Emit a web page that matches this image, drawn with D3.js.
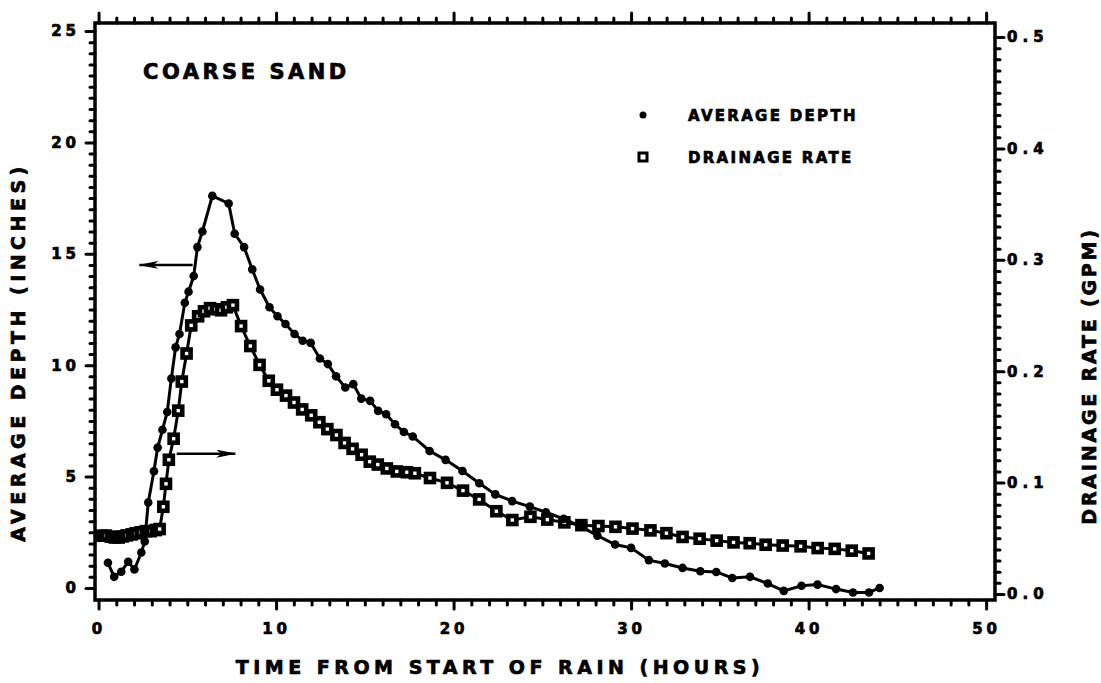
<!DOCTYPE html>
<html>
<head>
<meta charset="utf-8">
<script src="https://cdn.jsdelivr.net/npm/d3@7"></script>
<style>
  body { margin: 0; background: #fff; }
  svg text { font-family: "DejaVu Sans", sans-serif; font-weight: bold; fill: #000; stroke: #000; stroke-width: 0.7; }
  .axis path.domain { display: none; }
  .axis line { stroke: #000; stroke-width: 3; stroke-linecap: round; }
</style>
</head>
<body>
<svg id="chart"></svg>
<script>
// values
const depthHours = [0.53,0.88,1.28,1.67,2.02,2.41,2.6,2.8,3.12,3.33,3.6,3.87,4.1,4.34,4.56,4.86,5.07,5.36,5.57,5.85,
  6.41,7.33,7.67,8.2,8.66,9.1,9.63,10.08,10.53,11.04,11.5,11.95,12.47,12.92,13.38,13.9,14.35,14.8,15.3,15.75,
  16.2,16.7,17.2,17.7,18.65,19.55,20.5,21.45,22.35,23.3,24.3,25.2,26.2,27.2,28.1,29.1,30.0,31.0,31.9,32.9,
  33.9,34.8,35.7,36.7,37.7,38.6,39.6,40.5,41.55,42.5,43.4,44.0];
const depthInches = [1.13,0.5,0.73,1.18,0.83,1.59,2.09,3.84,5.24,6.3,7.1,7.9,9.4,10.8,11.4,12.8,13.3,14.0,15.3,16.0,
  17.6,17.26,15.9,15.3,14.3,13.4,12.6,12.2,11.85,11.4,11.1,11.0,10.3,10.05,9.5,9.0,9.15,8.5,8.4,7.95,
  7.8,7.35,7.0,6.8,6.15,5.75,5.25,4.7,4.2,3.9,3.65,3.4,3.1,2.75,2.35,1.95,1.8,1.25,1.1,0.9,
  0.75,0.72,0.45,0.5,0.2,-0.13,0.1,0.15,-0.05,-0.2,-0.2,0.0];

const rateHours = [0.18,0.41,0.69,0.91,1.14,1.36,1.59,1.87,2.09,2.37,2.66,2.94,3.22,3.44,
  3.65,3.8,3.96,4.23,4.49,4.69,4.96,5.22,5.61,5.94,6.28,6.61,6.9,7.23,7.57,
  8.03,8.55,9.07,9.59,10.05,10.56,11.01,11.47,11.98,12.44,12.89,13.4,13.86,14.31,14.82,15.28,15.73,16.24,16.8,17.37,17.82,
  18.67,19.63,20.53,21.44,22.41,23.31,24.33,25.28,26.24,27.2,28.16,29.12,30.08,31.09,31.99,32.9,33.86,34.82,35.77,
  36.68,37.58,38.54,39.55,40.51,41.47,42.43,43.38];
const rateGpm = [0.0523,0.0524,0.0515,0.0507,0.0507,0.0517,0.0526,0.0535,0.0545,0.0554,0.0564,0.0564,0.0574,0.0583,
  0.0783,0.0989,0.1205,0.1394,0.1646,0.1907,0.2159,0.2411,0.2493,0.2538,0.2566,0.2556,0.2547,0.2574,0.2593,
  0.2405,0.2226,0.2057,0.1914,0.1834,0.1781,0.1719,0.1657,0.1604,0.1542,0.148,0.1427,0.1356,0.1303,0.125,0.1188,0.1162,0.1127,0.11,0.1093,0.1084,
  0.1041,0.0998,0.0928,0.0849,0.0743,0.0664,0.0693,0.0668,0.0643,0.0618,0.061,0.0603,0.0587,0.0571,0.0546,0.0512,0.0496,0.0479,0.0463,
  0.0456,0.0442,0.0435,0.0428,0.0412,0.0405,0.0389,0.0364];

const xTicks = [0, 10, 20, 30, 40, 50];
const depthTicks = [0, 5, 10, 15, 20, 25];
const rateTicks = [0, 0.1, 0.2, 0.3, 0.4, 0.5];
const legendKeys = ['AVERAGE DEPTH', 'DRAINAGE RATE'];
const chartTitle = 'COARSE SAND';
const xTitle = 'TIME FROM START OF RAIN (HOURS)';
const leftTitle = 'AVERAGE DEPTH (INCHES)';
const rightTitle = 'DRAINAGE RATE (GPM)';

// arrows pointing each curve at its axis: [hour, value] start -> end
const depthArrow = [[5.3, 14.5], [2.3, 14.5]];
const rateArrow = [[4.4, 0.126], [7.7, 0.126]];

class DualAxisChart {

  constructor(_config) {
    this.config = {
      parentElement: _config.parentElement,
      containerWidth: 1101,
      containerHeight: 683,
      margin: { top: 23, bottom: 83, right: 106, left: 95 }
    };
    this.initVis();
  }

  initVis() {
    let vis = this;

    vis.width = vis.config.containerWidth - vis.config.margin.left - vis.config.margin.right;
    vis.height = vis.config.containerHeight - vis.config.margin.top - vis.config.margin.bottom;

    vis.xScale = d3.scaleLinear().domain([-0.2, 50.5]).range([0, vis.width]);
    vis.yLeft = d3.scaleLinear().domain([-0.54, 25.36]).range([vis.height, 0]);
    vis.yRight = d3.scaleLinear().domain([-0.0054, 0.5126]).range([vis.height, 0]);

    vis.svg = d3.select(vis.config.parentElement)
        .attr('width', vis.config.containerWidth)
        .attr('height', vis.config.containerHeight);

    vis.svg.append('defs').append('marker')
        .attr('id', 'arrowhead')
        .attr('viewBox', '0 0 20 8')
        .attr('refX', 19).attr('refY', 4)
        .attr('markerWidth', 20).attr('markerHeight', 8)
        .attr('markerUnits', 'userSpaceOnUse')
        .attr('orient', 'auto')
      .append('path')
        .attr('d', 'M0,0 L20,4 L0,8 L5,4 Z')
        .attr('fill', '#000');

    vis.chart = vis.svg.append('g')
        .attr('transform', `translate(${vis.config.margin.left},${vis.config.margin.top})`);

    // minor ticks first, then majors on top
    const xMinor = d3.range(0, 51, 1).filter(d => d % 10 !== 0);
    const leftMinor = d3.range(0, 25.01, 0.5).filter(d => d % 5 !== 0);
    const rightMinor = d3.range(1, 51).filter(d => d % 10 !== 0).map(d => d / 100);

    vis.chart.append('g').attr('class', 'axis')
        .attr('transform', `translate(0,${vis.height})`)
        .call(d3.axisBottom(vis.xScale).tickValues(xMinor).tickSize(5).tickFormat(''));
    vis.chart.append('g').attr('class', 'axis x-axis')
        .attr('transform', `translate(0,${vis.height})`)
        .call(d3.axisBottom(vis.xScale).tickValues(xTicks).tickSize(9).tickPadding(14).tickFormat(d3.format('d')));

    vis.chart.append('g').attr('class', 'axis')
        .call(d3.axisTop(vis.xScale).tickValues(xMinor).tickSize(5).tickFormat(''));
    vis.chart.append('g').attr('class', 'axis')
        .call(d3.axisTop(vis.xScale).tickValues(xTicks).tickSize(10).tickFormat(''));

    vis.chart.append('g').attr('class', 'axis')
        .call(d3.axisLeft(vis.yLeft).tickValues(leftMinor).tickSize(5).tickFormat(''));
    vis.chart.append('g').attr('class', 'axis y-axis')
        .call(d3.axisLeft(vis.yLeft).tickValues(depthTicks).tickSize(9).tickPadding(6).tickFormat(d3.format('d')));

    vis.chart.append('g').attr('class', 'axis')
        .attr('transform', `translate(${vis.width},0)`)
        .call(d3.axisRight(vis.yRight).tickValues(rightMinor).tickSize(5).tickFormat(''));
    vis.chart.append('g').attr('class', 'axis y-axis-right')
        .attr('transform', `translate(${vis.width},0)`)
        .call(d3.axisRight(vis.yRight).tickValues(rateTicks).tickSize(9).tickPadding(3).tickFormat(d3.format('.1f')));

    vis.chart.selectAll('.x-axis text, .y-axis text')
        .attr('font-size', 15)
        .attr('letter-spacing', 4);
    vis.chart.selectAll('.y-axis-right text')
        .attr('font-size', 15)
        .attr('letter-spacing', 5);

    // frame
    vis.chart.append('rect')
        .attr('width', vis.width)
        .attr('height', vis.height)
        .attr('fill', 'none')
        .attr('stroke', '#000')
        .attr('stroke-width', 3.5);

    vis.renderVis();
  }

  renderVis() {
    let vis = this;

    const depthData = d3.zip(depthHours, depthInches);
    const rateData = d3.zip(rateHours, rateGpm);

    const depthLine = d3.line().x(d => vis.xScale(d[0])).y(d => vis.yLeft(d[1]));
    const rateLine = d3.line().x(d => vis.xScale(d[0])).y(d => vis.yRight(d[1]));

    vis.chart.append('path')
        .datum(rateData)
        .attr('fill', 'none')
        .attr('stroke', '#000')
        .attr('stroke-width', 3)
        .attr('d', rateLine);

    vis.chart.selectAll('.rate-mark')
      .data(rateData)
      .join('rect')
        .attr('class', 'rate-mark')
        .attr('x', d => vis.xScale(d[0]) - 4)
        .attr('y', d => vis.yRight(d[1]) - 4)
        .attr('width', 8)
        .attr('height', 8)
        .attr('fill', '#fff')
        .attr('stroke', '#000')
        .attr('stroke-width', 4.6);

    vis.chart.append('path')
        .datum(depthData)
        .attr('fill', 'none')
        .attr('stroke', '#000')
        .attr('stroke-width', 3)
        .attr('d', depthLine);

    vis.chart.selectAll('.depth-mark')
      .data(depthData)
      .join('circle')
        .attr('class', 'depth-mark')
        .attr('cx', d => vis.xScale(d[0]))
        .attr('cy', d => vis.yLeft(d[1]))
        .attr('r', 4.3)
        .attr('fill', '#000');

    // arrows
    vis.chart.append('path')
        .datum(depthArrow)
        .attr('d', depthLine)
        .attr('stroke', '#000')
        .attr('stroke-width', 2.5)
        .attr('marker-end', 'url(#arrowhead)');
    vis.chart.append('path')
        .datum(rateArrow)
        .attr('d', rateLine)
        .attr('stroke', '#000')
        .attr('stroke-width', 2.5)
        .attr('marker-end', 'url(#arrowhead)');

    // title inside the plot
    vis.chart.append('text')
        .attr('x', 48)
        .attr('y', 56)
        .attr('font-size', 21)
        .attr('letter-spacing', 3.5)
        .text(chartTitle);

    // legend
    const legend = vis.chart.append('g').attr('transform', 'translate(548,92)');
    legend.append('circle').attr('cx', 0).attr('cy', 0).attr('r', 3.5).attr('fill', '#000');
    legend.append('rect')
        .attr('x', -4).attr('y', 38).attr('width', 8).attr('height', 8)
        .attr('fill', '#fff').attr('stroke', '#000').attr('stroke-width', 3);
    legend.selectAll('.legend-label')
      .data(legendKeys)
      .join('text')
        .attr('class', 'legend-label')
        .attr('x', 45)
        .attr('y', (d, i) => 6 + i * 42)
        .attr('font-size', 15)
        .attr('letter-spacing', 2.3)
        .text(d => d);

    // axis titles
    vis.svg.append('text')
        .attr('x', 500)
        .attr('y', 674)
        .attr('text-anchor', 'middle')
        .attr('font-size', 19)
        .attr('letter-spacing', 4.5)
        .text(xTitle);

    vis.svg.append('text')
        .attr('transform', 'translate(25,352) rotate(-90)')
        .attr('text-anchor', 'middle')
        .attr('font-size', 19)
        .attr('letter-spacing', 4.5)
        .text(leftTitle);

    vis.svg.append('text')
        .attr('transform', 'translate(1096,376) rotate(-90)')
        .attr('text-anchor', 'middle')
        .attr('font-size', 19)
        .attr('letter-spacing', 2.8)
        .text(rightTitle);
  }
}

new DualAxisChart({ parentElement: '#chart' });
</script>
</body>
</html>
